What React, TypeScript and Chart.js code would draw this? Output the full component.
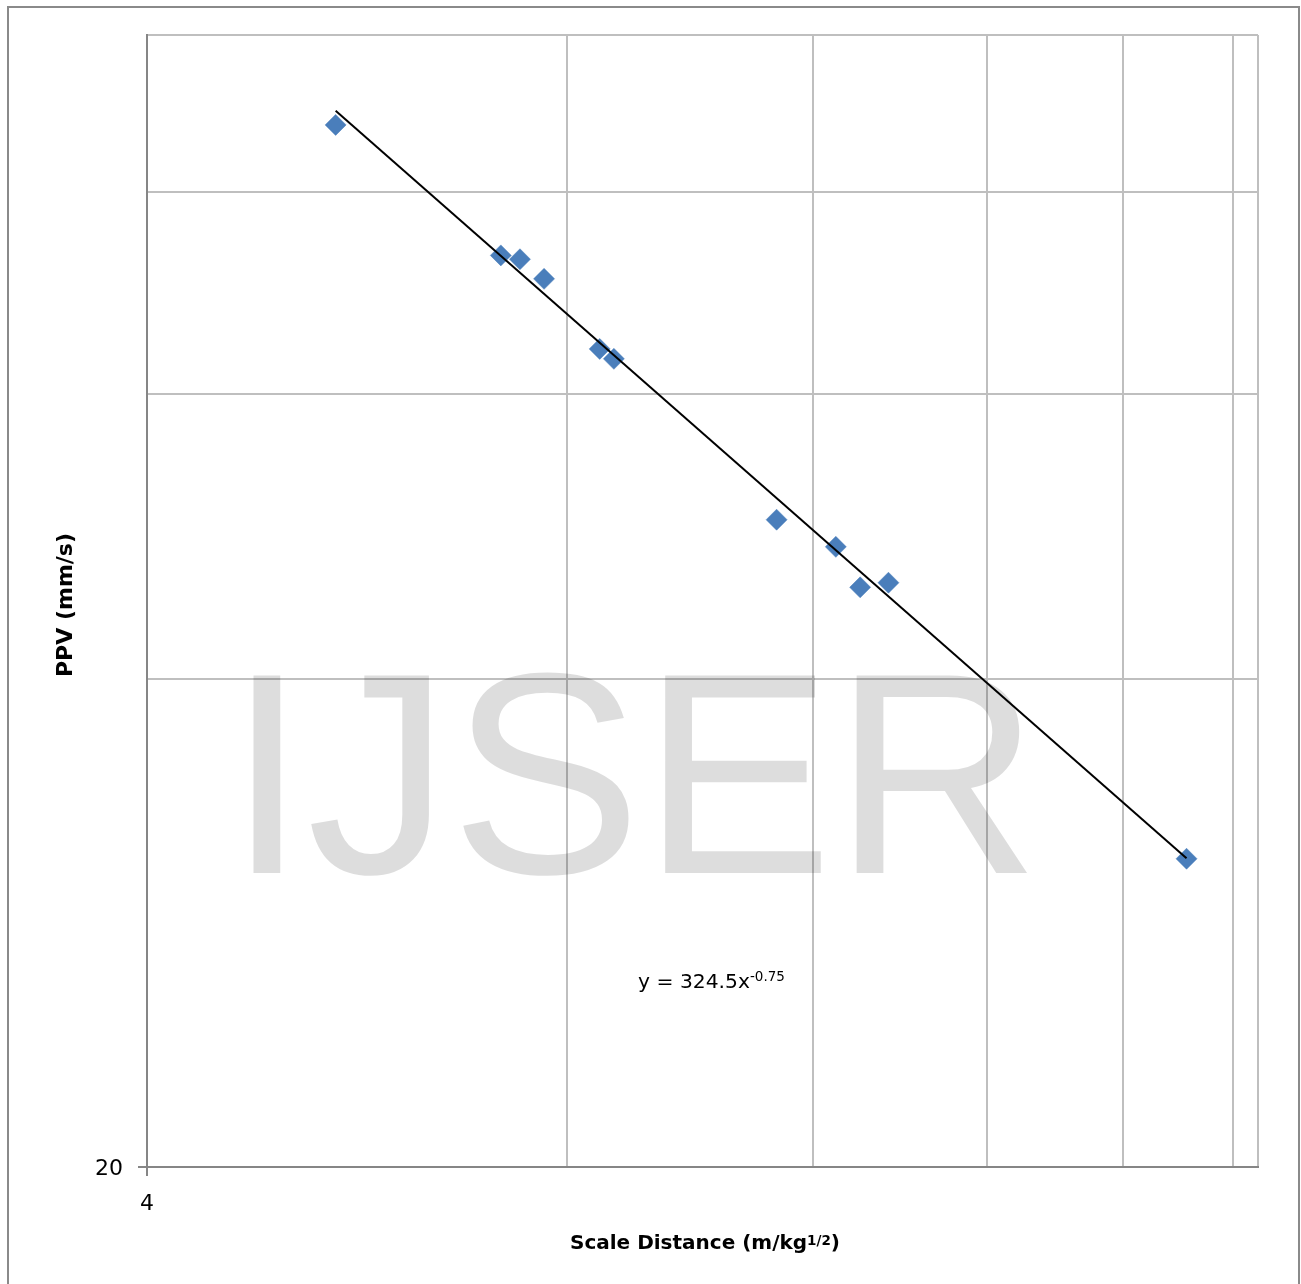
import React, { useEffect, useRef } from "react";
import { Chart, registerables } from "chart.js";

Chart.register(...registerables);

// ---- data ----
const SCALE_DISTANCE = [5.46, 7.17, 7.4, 7.7, 8.44, 8.64, 11.3, 12.46, 12.97, 13.59, 22.22];
const PPV = [88.0, 73.1, 72.7, 70.7, 64.0, 63.1, 50.2, 48.3, 45.6, 45.9, 31.0];

const X_MIN = 4;
const X_MAX = 25;
const Y_MIN = 20;
const Y_MAX = 100;
const X_GRID = [4, 8, 12, 16, 20, 24, 25];
const Y_GRID = [20, 40, 60, 80, 100];
const X_LABELLED = [4];
const Y_LABELLED = [20];

// power trendline y = a * x^b
const TREND_A = 324.5;
const TREND_B = -0.757;

const EQUATION_MAIN = "y = 324.5x";
const EQUATION_EXP = "-0.75";
const X_TITLE_MAIN = "Scale Distance (m/kg";
const X_TITLE_SUP = "1/2";
const X_TITLE_END = ")";
const Y_TITLE = "PPV (mm/s)";
const WATERMARK = "IJSER";

const W = 1301;
const H = 1284;
const GRID_COLOR = "#bfbfbf";
const AXIS_COLOR = "#868686";
const MARKER_COLOR = "#4a7ebb";
const FONT = "'DejaVu Sans', sans-serif";

const overlayPlugin = {
  id: "overlay",
  beforeDraw(chart: any) {
    const ctx = chart.ctx as CanvasRenderingContext2D;
    ctx.save();
    ctx.fillStyle = "#ffffff";
    ctx.fillRect(0, 0, chart.width, chart.height);
    ctx.strokeStyle = "#8a8a8a";
    ctx.lineWidth = 2;
    ctx.strokeRect(8, 7, 1291, 1320);
    ctx.restore();
  },
  beforeDatasetsDraw(chart: any) {
    const ctx = chart.ctx as CanvasRenderingContext2D;
    ctx.save();
    ctx.fillStyle = "rgba(0,0,0,0.135)";
    ctx.font = "287px 'Liberation Sans', Arial, sans-serif";
    ctx.textAlign = "left";
    ctx.textBaseline = "alphabetic";
    ctx.fillText(WATERMARK, 227, 873);
    ctx.restore();
  },
  afterDraw(chart: any) {
    const ctx = chart.ctx as CanvasRenderingContext2D;
    const xs = chart.scales.x;
    const ys = chart.scales.y;
    const area = chart.chartArea;
    ctx.save();
    // tick marks
    ctx.strokeStyle = AXIS_COLOR;
    ctx.lineWidth = 2;
    Y_LABELLED.forEach((v) => {
      const y = Math.round(ys.getPixelForValue(v));
      ctx.beginPath();
      ctx.moveTo(area.left - 9, y);
      ctx.lineTo(area.left, y);
      ctx.stroke();
    });
    X_LABELLED.forEach((v) => {
      const x = Math.round(xs.getPixelForValue(v));
      ctx.beginPath();
      ctx.moveTo(x, area.bottom);
      ctx.lineTo(x, area.bottom + 9);
      ctx.stroke();
    });
    // tick labels
    ctx.fillStyle = "#000";
    ctx.font = `22px ${FONT}`;
    ctx.textBaseline = "alphabetic";
    ctx.textAlign = "right";
    Y_LABELLED.forEach((v) => {
      const y = ys.getPixelForValue(v);
      ctx.fillText(String(v), area.left - 24, y + 8);
    });
    ctx.textAlign = "center";
    X_LABELLED.forEach((v) => {
      const x = xs.getPixelForValue(v);
      ctx.fillText(String(v), x, area.bottom + 43);
    });
    // x title
    ctx.textAlign = "left";
    let tx = 570;
    const tb = 1249;
    ctx.font = `bold 20px ${FONT}`;
    ctx.fillText(X_TITLE_MAIN, tx, tb);
    tx += ctx.measureText(X_TITLE_MAIN).width;
    ctx.font = `bold 13.5px ${FONT}`;
    ctx.fillText(X_TITLE_SUP, tx, tb - 4.5);
    tx += ctx.measureText(X_TITLE_SUP).width;
    ctx.font = `bold 20px ${FONT}`;
    ctx.fillText(X_TITLE_END, tx, tb);
    // y title
    ctx.save();
    ctx.translate(71.5, 605);
    ctx.rotate(-Math.PI / 2);
    ctx.textAlign = "center";
    ctx.font = `bold 22px ${FONT}`;
    ctx.fillText(Y_TITLE, 0, 0);
    ctx.restore();
    // equation
    ctx.textAlign = "left";
    ctx.font = `20.3px ${FONT}`;
    let ex = 638;
    ctx.fillText(EQUATION_MAIN, ex, 988);
    ex += ctx.measureText(EQUATION_MAIN).width;
    ctx.font = `13.5px ${FONT}`;
    ctx.fillText(EQUATION_EXP, ex, 981);
    ctx.restore();
  },
};

export default function App() {
  const ref = useRef<HTMLCanvasElement | null>(null);

  useEffect(() => {
    if (!ref.current) return;
    const points = SCALE_DISTANCE.map((x, i) => ({ x, y: PPV[i] }));
    const xLo = Math.min(...SCALE_DISTANCE);
    const xHi = Math.max(...SCALE_DISTANCE);
    const trend = [xLo, xHi].map((x) => ({ x, y: TREND_A * Math.pow(x, TREND_B) }));

    const chart = new Chart(ref.current, {
      type: "scatter",
      data: {
        datasets: [
          {
            label: "Power (PPV)",
            data: trend,
            showLine: true,
            borderColor: "#000000",
            borderWidth: 2,
            pointRadius: 0,
            fill: false,
            order: 0,
          } as any,
          {
            label: "PPV",
            data: points,
            pointStyle: "rectRot",
            pointRadius: 10.5,
            pointHoverRadius: 10.5,
            backgroundColor: MARKER_COLOR,
            borderColor: MARKER_COLOR,
            borderWidth: 0.5,
            order: 1,
          } as any,
        ],
      },
      options: {
        animation: false,
        responsive: false,
        devicePixelRatio: 1,
        events: [],
        layout: { padding: { left: 147, top: 35, right: W - 1258, bottom: H - 1167 } },
        plugins: {
          legend: { display: false },
          tooltip: { enabled: false },
          title: { display: false },
        },
        scales: {
          x: {
            type: "logarithmic",
            min: X_MIN,
            max: X_MAX,
            afterBuildTicks: (scale: any) => {
              scale.ticks = X_GRID.map((v) => ({ value: v }));
            },
            ticks: { display: false },
            grid: {
              drawTicks: false,
              lineWidth: 2,
              color: (c: any) => (c.tick && c.tick.value === X_MIN ? AXIS_COLOR : GRID_COLOR),
            },
            border: { display: true, color: AXIS_COLOR, width: 2 },
          },
          y: {
            type: "logarithmic",
            min: Y_MIN,
            max: Y_MAX,
            afterBuildTicks: (scale: any) => {
              scale.ticks = Y_GRID.map((v) => ({ value: v }));
            },
            ticks: { display: false },
            grid: {
              drawTicks: false,
              lineWidth: 2,
              color: (c: any) => (c.tick && c.tick.value === Y_MIN ? AXIS_COLOR : GRID_COLOR),
            },
            border: { display: true, color: AXIS_COLOR, width: 2 },
          },
        },
      } as any,
      plugins: [overlayPlugin],
    });
    return () => chart.destroy();
  }, []);

  return (
    <div style={{ position: "absolute", left: 0, top: 0, width: W, height: H, overflow: "hidden" }}>
      <canvas ref={ref} width={W} height={H} style={{ display: "block", width: W, height: H }} />
    </div>
  );
}
